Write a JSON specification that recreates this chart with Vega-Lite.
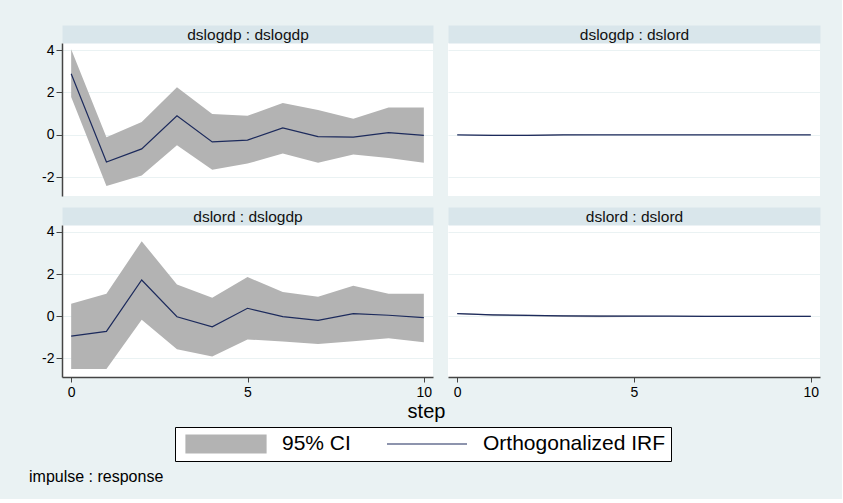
{
  "$schema": "https://vega.github.io/schema/vega-lite/v6.json",
  "background": "#eaf2f3",
  "padding": {"left": 29, "top": 27, "right": 22, "bottom": 14},
  "autosize": {"type": "pad"},
  "title": {"text": "impulse : response", "orient": "bottom", "anchor": "start", "frame": "group", "fontSize": 16, "fontWeight": "normal", "color": "#000000", "dx": -33, "offset": 7},
  "datasets": {
    "irf": [
      {"p": "TL", "step": 0, "irf": 2.88, "lo": 1.78, "hi": 4.03},
      {"p": "TL", "step": 1, "irf": -1.28, "lo": -2.41, "hi": -0.11},
      {"p": "TL", "step": 2, "irf": -0.66, "lo": -1.91, "hi": 0.61},
      {"p": "TL", "step": 3, "irf": 0.90, "lo": -0.49, "hi": 2.25},
      {"p": "TL", "step": 4, "irf": -0.33, "lo": -1.64, "hi": 0.99},
      {"p": "TL", "step": 5, "irf": -0.25, "lo": -1.35, "hi": 0.90},
      {"p": "TL", "step": 6, "irf": 0.33, "lo": -0.88, "hi": 1.50},
      {"p": "TL", "step": 7, "irf": -0.08, "lo": -1.31, "hi": 1.17},
      {"p": "TL", "step": 8, "irf": -0.11, "lo": -0.93, "hi": 0.76},
      {"p": "TL", "step": 9, "irf": 0.11, "lo": -1.09, "hi": 1.29},
      {"p": "TL", "step": 10, "irf": -0.02, "lo": -1.31, "hi": 1.29},
      {"p": "TR", "step": 0, "irf": 0.0, "lo": 0.0, "hi": 0.0},
      {"p": "TR", "step": 1, "irf": -0.02, "lo": -0.05, "hi": 0.01},
      {"p": "TR", "step": 2, "irf": -0.02, "lo": -0.05, "hi": 0.01},
      {"p": "TR", "step": 3, "irf": 0.0, "lo": -0.02, "hi": 0.02},
      {"p": "TR", "step": 4, "irf": 0.0, "lo": -0.01, "hi": 0.01},
      {"p": "TR", "step": 5, "irf": 0.0, "lo": -0.01, "hi": 0.01},
      {"p": "TR", "step": 6, "irf": 0.0, "lo": -0.01, "hi": 0.01},
      {"p": "TR", "step": 7, "irf": 0.0, "lo": -0.01, "hi": 0.01},
      {"p": "TR", "step": 8, "irf": 0.0, "lo": -0.01, "hi": 0.01},
      {"p": "TR", "step": 9, "irf": 0.0, "lo": -0.01, "hi": 0.01},
      {"p": "TR", "step": 10, "irf": 0.0, "lo": -0.01, "hi": 0.01},
      {"p": "BL", "step": 0, "irf": -0.94, "lo": -2.50, "hi": 0.60},
      {"p": "BL", "step": 1, "irf": -0.72, "lo": -2.50, "hi": 1.07},
      {"p": "BL", "step": 2, "irf": 1.72, "lo": -0.17, "hi": 3.56},
      {"p": "BL", "step": 3, "irf": -0.02, "lo": -1.56, "hi": 1.51},
      {"p": "BL", "step": 4, "irf": -0.50, "lo": -1.91, "hi": 0.88},
      {"p": "BL", "step": 5, "irf": 0.38, "lo": -1.10, "hi": 1.86},
      {"p": "BL", "step": 6, "irf": -0.02, "lo": -1.20, "hi": 1.15},
      {"p": "BL", "step": 7, "irf": -0.19, "lo": -1.31, "hi": 0.93},
      {"p": "BL", "step": 8, "irf": 0.13, "lo": -1.18, "hi": 1.45},
      {"p": "BL", "step": 9, "irf": 0.05, "lo": -1.04, "hi": 1.07},
      {"p": "BL", "step": 10, "irf": -0.06, "lo": -1.23, "hi": 1.07},
      {"p": "BR", "step": 0, "irf": 0.13, "lo": 0.11, "hi": 0.15},
      {"p": "BR", "step": 1, "irf": 0.07, "lo": 0.03, "hi": 0.10},
      {"p": "BR", "step": 2, "irf": 0.04, "lo": 0.0, "hi": 0.07},
      {"p": "BR", "step": 3, "irf": 0.02, "lo": -0.03, "hi": 0.05},
      {"p": "BR", "step": 4, "irf": 0.01, "lo": -0.05, "hi": 0.05},
      {"p": "BR", "step": 5, "irf": 0.01, "lo": -0.03, "hi": 0.04},
      {"p": "BR", "step": 6, "irf": 0.01, "lo": -0.02, "hi": 0.03},
      {"p": "BR", "step": 7, "irf": 0.0, "lo": -0.02, "hi": 0.03},
      {"p": "BR", "step": 8, "irf": 0.0, "lo": -0.02, "hi": 0.02},
      {"p": "BR", "step": 9, "irf": 0.0, "lo": -0.02, "hi": 0.02},
      {"p": "BR", "step": 10, "irf": 0.0, "lo": -0.02, "hi": 0.02}
    ]
  },
  "columns": 2,
  "spacing": {"row": 29, "column": 15},
  "bounds": "flush",
  "concat": [
    {
      "width": 371, "height": 153,
      "data": {"name": "irf"},
      "transform": [{"filter": "datum.p === 'TL'"}],
      "encoding": {
        "x": {"field": "step", "type": "quantitative", "scale": {"domain": [-0.26, 10.26], "nice": false, "zero": false},
          "axis": {"orient": "top", "title": "dslogdp : dslogdp", "titleFontSize": 15.5, "titleFontWeight": "normal", "titleColor": "#111111", "titleBaseline": "middle", "titleY": 0, "titlePadding": 0, "domain": true, "domainColor": "#d9e6eb", "domainWidth": 18, "offset": 9, "ticks": false, "labels": false, "grid": false}}
      },
      "layer": [
        {
          "mark": {"type": "area", "opacity": 1},
          "encoding": {
            "y": {"field": "lo", "type": "quantitative", "scale": {"domain": [-2.88, 4.33], "nice": false, "zero": false},
              "axis": {"values": [-2, 0, 2, 4], "labelExpr": "replace(datum.label, '−', '-')", "title": null, "grid": true, "gridColor": "#eaf2f3", "gridWidth": 1.2, "domain": true, "domainColor": "#444444", "domainWidth": 1.5, "ticks": true, "tickColor": "#444444", "tickSize": 6, "tickWidth": 1, "labelFontSize": 14, "labelColor": "#000000", "labelPadding": 2, "labelAngle": 0, "labelFlush": false, "labelOverlap": false}},
            "y2": {"field": "hi"},
            "color": {"datum": "95% CI", "type": "nominal",
              "scale": {"domain": ["95% CI", "Orthogonalized IRF"], "range": ["#b3b3b3", "#1c2a5c"]},
              "legend": {"orient": "none", "legendX": 113, "legendY": 384, "direction": "horizontal", "title": null, "fillColor": "#ffffff", "strokeColor": "#000000", "padding": 5, "symbolSize": 6400, "symbolStrokeWidth": 1.2, "symbolOffset": 5, "labelOffset": 15, "columnPadding": 30, "clipHeight": 24, "labelFontSize": 21, "labelColor": "#000000", "labelLimit": 400, "labelFont": "Liberation Sans",
                "encode": {"symbols": {"update": {
                  "shape": {"signal": "datum.value === '95% CI' ? 'M-1,-0.225H1V0.225H-1Z' : 'M-1,0H1'"},
                  "fill": {"signal": "datum.value === '95% CI' ? '#b3b3b3' : 'transparent'"},
                  "stroke": {"signal": "datum.value === '95% CI' ? 'transparent' : '#1c2a5c'"},
                  "strokeWidth": {"value": 1.2},
                  "opacity": {"value": 1}
                }}}}}
          }
        },
        {
          "mark": {"type": "line", "strokeWidth": 1.2},
          "encoding": {
            "y": {"field": "irf", "type": "quantitative", "scale": {"domain": [-2.88, 4.33], "nice": false, "zero": false},
              "axis": {"values": [-2, 0, 2, 4], "labelExpr": "replace(datum.label, '−', '-')", "title": null, "grid": true, "gridColor": "#eaf2f3", "gridWidth": 1.2, "domain": true, "domainColor": "#444444", "domainWidth": 1.5, "ticks": true, "tickColor": "#444444", "tickSize": 6, "tickWidth": 1, "labelFontSize": 14, "labelColor": "#000000", "labelPadding": 2, "labelAngle": 0, "labelFlush": false, "labelOverlap": false}},
            "color": {"datum": "Orthogonalized IRF", "type": "nominal",
              "scale": {"domain": ["95% CI", "Orthogonalized IRF"], "range": ["#b3b3b3", "#1c2a5c"]},
              "legend": {"orient": "none", "legendX": 113, "legendY": 384, "direction": "horizontal", "title": null, "fillColor": "#ffffff", "strokeColor": "#000000", "padding": 5, "symbolSize": 6400, "symbolStrokeWidth": 1.2, "symbolOffset": 5, "labelOffset": 15, "columnPadding": 30, "clipHeight": 24, "labelFontSize": 21, "labelColor": "#000000", "labelLimit": 400, "labelFont": "Liberation Sans",
                "encode": {"symbols": {"update": {
                  "shape": {"signal": "datum.value === '95% CI' ? 'M-1,-0.225H1V0.225H-1Z' : 'M-1,0H1'"},
                  "fill": {"signal": "datum.value === '95% CI' ? '#b3b3b3' : 'transparent'"},
                  "stroke": {"signal": "datum.value === '95% CI' ? 'transparent' : '#1c2a5c'"},
                  "strokeWidth": {"value": 1.2},
                  "opacity": {"value": 1}
                }}}}}
          }
        }
      ]
    },
    {
      "width": 372, "height": 153,
      "data": {"name": "irf"},
      "transform": [{"filter": "datum.p === 'TR'"}],
      "encoding": {
        "x": {"field": "step", "type": "quantitative", "scale": {"domain": [-0.26, 10.26], "nice": false, "zero": false},
          "axis": {"orient": "top", "title": "dslogdp : dslord", "titleFontSize": 15.5, "titleFontWeight": "normal", "titleColor": "#111111", "titleBaseline": "middle", "titleY": 0, "titlePadding": 0, "domain": true, "domainColor": "#d9e6eb", "domainWidth": 18, "offset": 9, "ticks": false, "labels": false, "grid": false}}
      },
      "layer": [
        {
          "mark": {"type": "area", "opacity": 1, "color": "#b3b3b3"},
          "encoding": {
            "y": {"field": "lo", "type": "quantitative", "scale": {"domain": [-2.88, 4.33], "nice": false, "zero": false},
              "axis": {"values": [-2, 0, 2, 4], "title": null, "grid": true, "gridColor": "#eaf2f3", "gridWidth": 1.2, "domain": false, "ticks": false, "labels": false}},
            "y2": {"field": "hi"}
          }
        },
        {
          "mark": {"type": "line", "strokeWidth": 1.2, "color": "#1c2a5c"},
          "encoding": {
            "y": {"field": "irf", "type": "quantitative", "scale": {"domain": [-2.88, 4.33], "nice": false, "zero": false},
              "axis": {"values": [-2, 0, 2, 4], "title": null, "grid": true, "gridColor": "#eaf2f3", "gridWidth": 1.2, "domain": false, "ticks": false, "labels": false}}
          }
        }
      ]
    },
    {
      "width": 371, "height": 152,
      "data": {"name": "irf"},
      "transform": [{"filter": "datum.p === 'BL'"}],
      "resolve": {"axis": {"x": "independent"}},
      "layer": [
        {
          "mark": {"type": "area", "opacity": 1, "color": "#b3b3b3"},
          "encoding": {
            "x": {"field": "step", "type": "quantitative", "scale": {"domain": [-0.26, 10.26], "nice": false, "zero": false},
              "axis": {"orient": "bottom", "values": [0, 5, 10], "format": "d", "title": "step", "grid": false, "domain": true, "domainColor": "#444444", "domainWidth": 1.5, "ticks": true, "tickColor": "#444444", "tickSize": 5, "tickWidth": 1, "labelFontSize": 14, "labelColor": "#000000", "labelPadding": 3, "labelFlush": false, "labelOverlap": false, "titleFontSize": 20, "titleFontWeight": "normal", "titleColor": "#000000", "titleX": 364, "titleY": 40, "titleBaseline": "alphabetic"}},
            "y": {"field": "lo", "type": "quantitative", "scale": {"domain": [-2.88, 4.33], "nice": false, "zero": false},
              "axis": {"values": [-2, 0, 2, 4], "labelExpr": "replace(datum.label, '−', '-')", "title": null, "grid": true, "gridColor": "#eaf2f3", "gridWidth": 1.2, "domain": true, "domainColor": "#444444", "domainWidth": 1.5, "ticks": true, "tickColor": "#444444", "tickSize": 6, "tickWidth": 1, "labelFontSize": 14, "labelColor": "#000000", "labelPadding": 2, "labelAngle": 0, "labelFlush": false, "labelOverlap": false}},
            "y2": {"field": "hi"}
          }
        },
        {
          "mark": {"type": "line", "strokeWidth": 1.2, "color": "#1c2a5c"},
          "encoding": {
            "x": {"field": "step", "type": "quantitative", "scale": {"domain": [-0.26, 10.26], "nice": false, "zero": false},
              "axis": {"orient": "top", "title": "dslord : dslogdp", "titleFontSize": 15.5, "titleFontWeight": "normal", "titleColor": "#111111", "titleBaseline": "middle", "titleY": 0, "titlePadding": 0, "domain": true, "domainColor": "#d9e6eb", "domainWidth": 18, "offset": 9, "ticks": false, "labels": false, "grid": false}},
            "y": {"field": "irf", "type": "quantitative", "scale": {"domain": [-2.88, 4.33], "nice": false, "zero": false},
              "axis": {"values": [-2, 0, 2, 4], "labelExpr": "replace(datum.label, '−', '-')", "title": null, "grid": true, "gridColor": "#eaf2f3", "gridWidth": 1.2, "domain": true, "domainColor": "#444444", "domainWidth": 1.5, "ticks": true, "tickColor": "#444444", "tickSize": 6, "tickWidth": 1, "labelFontSize": 14, "labelColor": "#000000", "labelPadding": 2, "labelAngle": 0, "labelFlush": false, "labelOverlap": false}}
          }
        }
      ]
    },
    {
      "width": 372, "height": 152,
      "data": {"name": "irf"},
      "transform": [{"filter": "datum.p === 'BR'"}],
      "resolve": {"axis": {"x": "independent"}},
      "layer": [
        {
          "mark": {"type": "area", "opacity": 1, "color": "#b3b3b3"},
          "encoding": {
            "x": {"field": "step", "type": "quantitative", "scale": {"domain": [-0.26, 10.26], "nice": false, "zero": false},
              "axis": {"orient": "bottom", "values": [0, 5, 10], "format": "d", "title": null, "grid": false, "domain": true, "domainColor": "#444444", "domainWidth": 1.5, "ticks": true, "tickColor": "#444444", "tickSize": 5, "tickWidth": 1, "labelFontSize": 14, "labelColor": "#000000", "labelPadding": 3, "labelFlush": false, "labelOverlap": false}},
            "y": {"field": "lo", "type": "quantitative", "scale": {"domain": [-2.88, 4.33], "nice": false, "zero": false},
              "axis": {"values": [-2, 0, 2, 4], "title": null, "grid": true, "gridColor": "#eaf2f3", "gridWidth": 1.2, "domain": false, "ticks": false, "labels": false}},
            "y2": {"field": "hi"}
          }
        },
        {
          "mark": {"type": "line", "strokeWidth": 1.2, "color": "#1c2a5c"},
          "encoding": {
            "x": {"field": "step", "type": "quantitative", "scale": {"domain": [-0.26, 10.26], "nice": false, "zero": false},
              "axis": {"orient": "top", "title": "dslord : dslord", "titleFontSize": 15.5, "titleFontWeight": "normal", "titleColor": "#111111", "titleBaseline": "middle", "titleY": 0, "titlePadding": 0, "domain": true, "domainColor": "#d9e6eb", "domainWidth": 18, "offset": 9, "ticks": false, "labels": false, "grid": false}},
            "y": {"field": "irf", "type": "quantitative", "scale": {"domain": [-2.88, 4.33], "nice": false, "zero": false},
              "axis": {"values": [-2, 0, 2, 4], "title": null, "grid": true, "gridColor": "#eaf2f3", "gridWidth": 1.2, "domain": false, "ticks": false, "labels": false}}
          }
        }
      ]
    }
  ],
  "config": {
    "font": "Liberation Sans",
    "view": {"fill": "#ffffff", "stroke": null},
    "axis": {"titleFontWeight": "normal"}
  }
}
